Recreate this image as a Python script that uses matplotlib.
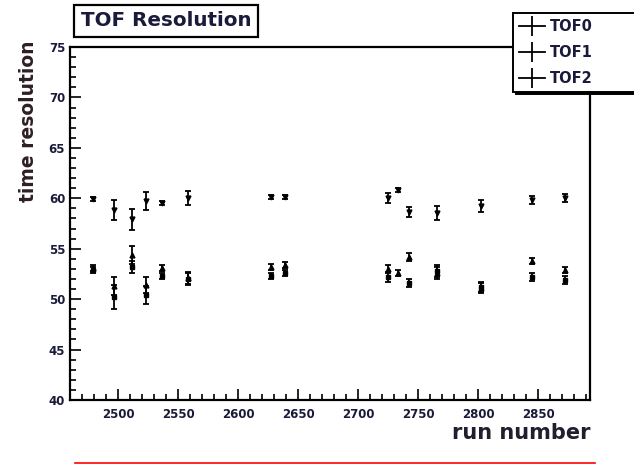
import matplotlib.pyplot as plt
import numpy as np
from matplotlib.lines import Line2D
from matplotlib.ticker import MultipleLocator

# run numbers and fitted TOF time resolutions (ps)
runs = [2479, 2497, 2512, 2523, 2537, 2558, 2627, 2639, 2725, 2733, 2742, 2766, 2802, 2845, 2872]
tof0 = [53.1, 51.3, 54.4, 51.4, 53.1, 52.1, 53.2, 53.4, 53.0, 52.6, 54.2, 52.6, 51.1, 53.8, 52.9]
tof0_err = [0.3, 0.9, 0.9, 0.8, 0.3, 0.6, 0.3, 0.3, 0.4, 0.3, 0.4, 0.6, 0.5, 0.3, 0.3]
tof1 = [59.9, 58.8, 57.9, 59.7, 59.5, 60.0, 60.1, 60.1, 60.0, 60.8, 58.6, 58.5, 59.2, 59.8, 60.0]
tof1_err = [0.2, 1.0, 1.0, 0.9, 0.2, 0.7, 0.2, 0.2, 0.5, 0.2, 0.5, 0.7, 0.6, 0.4, 0.4]
tof2 = [52.9, 50.2, 53.2, 50.4, 52.3, 52.0, 52.3, 52.6, 52.2, np.nan, 51.6, 52.8, 51.2, 52.2, 51.9]
tof2_err = [0.3, 1.2, 0.6, 0.9, 0.3, 0.6, 0.3, 0.3, 0.5, 0.3, 0.4, 0.6, 0.5, 0.4, 0.4]

labels = ["TOF0", "TOF1", "TOF2"]
navy = "#1a1a3a"

fig = plt.figure(figsize=(6.34, 4.65), dpi=100)
ax = fig.add_axes([70 / 634, 1 - 400 / 465, 520 / 634, 353 / 465])

for y, e, m in [(tof0, tof0_err, "^"), (tof1, tof1_err, "v"), (tof2, tof2_err, "s")]:
    ax.errorbar(runs, y, yerr=e, fmt=m, color="black", ms=3.5,
                elinewidth=1.3, capsize=2.5, capthick=1.3)

ax.set_xlim(2460, 2893)
ax.set_ylim(40, 75)
ax.xaxis.set_major_locator(MultipleLocator(50))
ax.xaxis.set_minor_locator(MultipleLocator(10))
ax.yaxis.set_major_locator(MultipleLocator(5))
ax.yaxis.set_minor_locator(MultipleLocator(1))
ax.tick_params(which="both", direction="in", top=False, right=False,
               width=1.2, labelsize=8.5, labelcolor=navy)
ax.tick_params(which="major", length=8)
ax.tick_params(which="minor", length=4)
ax.tick_params(axis="x", pad=6)
for lab in ax.get_xticklabels() + ax.get_yticklabels():
    lab.set_fontweight("bold")
for s in ax.spines.values():
    s.set_linewidth(1.6)

ax.set_ylabel("time resolution", fontsize=13.5, fontweight="bold", color="#2e1f24")
ax.yaxis.set_label_coords(-0.062, 0.79)
fig.text(590 / 634, 1 - 433 / 465, "run number", ha="right", va="center",
         fontsize=15, fontweight="bold", color="#1f1f2e")

fig.text(81 / 634, 1 - 21 / 465, "TOF Resolution", ha="left", va="center",
         fontsize=14.3, fontweight="bold", color=navy,
         bbox=dict(boxstyle="square,pad=0.35", fc="white", ec="black", lw=1.6))

handles = [Line2D([0], [0], color="black", lw=1.3, marker="|", ms=14, mew=1.3)
           for _ in labels]
leg = fig.legend(handles, labels, loc="upper left",
                 bbox_to_anchor=(513 / 634, 1 - 98 / 465, 0.26, 85 / 465),
                 mode="expand", fontsize=10.5, handlelength=1.8, handletextpad=0.3,
                 labelspacing=0.75, borderpad=0.4, fancybox=False, framealpha=1,
                 shadow={"color": "black", "alpha": 1}, borderaxespad=0)
leg.get_frame().set_edgecolor("black")
leg.get_frame().set_linewidth(1.4)
for t in leg.get_texts():
    t.set_fontweight("bold")
    t.set_color(navy)

# red rule at the bottom of the slide
fig.add_artist(Line2D([75 / 634, 595 / 634], [1 - 463 / 465] * 2, color="red", lw=1.2))

fig.savefig("out.png", dpi=100)
